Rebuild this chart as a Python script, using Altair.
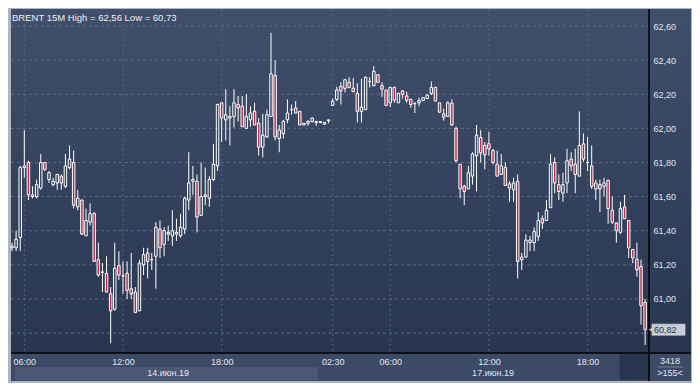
import altair as alt
import numpy as np
import pandas as pd

# ---------------- data ----------------
opens = [61.31, 61.30, 61.36, 61.77, 61.80, 61.60, 61.60, 61.65, 61.80, 61.70,
         61.67, 61.68, 61.72, 61.66, 61.77, 61.80, 61.54, 61.58, 61.37, 61.45,
         61.50, 61.23, 61.155, 61.15, 61.03, 60.94, 61.195, 61.135, 61.15, 61.06,
         61.04, 60.93, 61.20, 61.27, 61.23, 61.25, 61.41, 61.32, 61.39, 61.37,
         61.39, 61.37, 61.41, 61.58, 61.69, 61.69, 61.49, 61.61, 61.59, 61.70,
         61.78, 62.15, 62.05, 62.07, 62.07, 62.14, 62.13, 62.00, 62.05, 62.10,
         62.03, 61.89, 61.95, 62.07, 62.31, 61.94, 61.97, 62.05, 62.11, 62.12,
         62.10, 62.02, 62.03, 62.04, 62.04, 62.035, 62.025, 62.045, 62.135, 62.17,
         62.245, 62.235, 62.27, 62.235, 62.205, 62.10, 62.11, 62.275, 62.25, 62.315,
         62.25, 62.225, 62.15, 62.24, 62.15, 62.22, 62.19, 62.17, 62.145, 62.15,
         62.163, 62.175, 62.205, 62.24, 62.15, 62.085, 62.07, 62.148, 62.00, 61.79,
         61.66, 61.645, 61.72, 61.84, 61.946, 61.90, 61.91, 61.87, 61.79, 61.73,
         61.77, 61.675, 61.64, 61.69, 61.23, 61.245, 61.33, 61.33, 61.367, 61.47,
         61.46, 61.535, 61.80, 61.67, 61.62, 61.68, 61.82, 61.79, 61.72, 61.91,
         61.80, 61.78, 61.645, 61.67, 61.66, 61.695, 61.52, 61.445, 61.39, 61.54,
         61.46, 61.29, 61.233, 61.19, 60.98]
highs = [61.33, 61.40, 61.78, 61.99, 61.81, 61.66, 61.70, 61.85, 61.80, 61.75,
         61.71, 61.73, 61.73, 61.85, 61.90, 61.87, 61.64, 61.58, 61.53, 61.56,
         61.51, 61.33, 61.21, 61.25, 61.07, 61.33, 61.28, 61.22, 61.22, 61.27,
         61.07, 61.23, 61.30, 61.30, 61.27, 61.45, 61.46, 61.42, 61.43, 61.52,
         61.47, 61.50, 61.60, 61.86, 61.78, 61.73, 61.80, 61.77, 61.72, 61.91,
         62.145, 62.15, 62.23, 62.13, 62.23, 62.19, 62.19, 62.20, 62.13, 62.15,
         62.06, 62.085, 62.11, 62.56, 62.40, 62.02, 62.05, 62.17, 62.14, 62.16,
         62.10, 62.03, 62.05, 62.065, 62.045, 62.04, 62.037, 62.05, 62.175, 62.245,
         62.27, 62.29, 62.30, 62.295, 62.265, 62.29, 62.305, 62.30, 62.365, 62.315,
         62.27, 62.225, 62.245, 62.245, 62.21, 62.225, 62.215, 62.17, 62.155, 62.18,
         62.18, 62.20, 62.275, 62.245, 62.15, 62.115, 62.16, 62.17, 62.01, 61.79,
         61.67, 61.78, 61.86, 62.02, 61.99, 61.92, 61.98, 61.88, 61.87, 61.85,
         61.80, 61.69, 61.71, 61.73, 61.27, 61.38, 61.37, 61.42, 61.51, 61.49,
         61.58, 61.85, 61.83, 61.73, 61.74, 61.88, 61.86, 61.88, 62.10, 61.97,
         61.95, 61.90, 61.70, 61.70, 61.71, 61.70, 61.60, 61.45, 61.57, 61.61,
         61.46, 61.29, 61.33, 61.23, 61.00]
lows = [61.28, 61.28, 61.28, 61.71, 61.58, 61.59, 61.59, 61.64, 61.75, 61.68,
        61.66, 61.64, 61.64, 61.65, 61.76, 61.53, 61.52, 61.375, 61.37, 61.43,
        61.22, 61.13, 61.04, 61.04, 60.74, 60.93, 61.11, 61.03, 61.00, 61.00,
        60.92, 60.93, 61.14, 61.12, 61.17, 61.06, 61.24, 61.25, 61.34, 61.31,
        61.34, 61.36, 61.38, 61.52, 61.61, 61.39, 61.49, 61.55, 61.54, 61.69,
        61.75, 61.92, 61.93, 61.90, 62.005, 62.04, 62.01, 62.00, 62.01, 62.02,
        61.84, 61.83, 61.946, 62.07, 61.93, 61.86, 61.94, 62.03, 62.08, 62.09,
        62.02, 62.02, 62.015, 62.035, 62.015, 62.03, 62.02, 62.03, 62.133, 62.16,
        62.14, 62.21, 62.235, 62.215, 62.035, 62.035, 62.11, 62.24, 62.25, 62.27,
        62.185, 62.13, 62.125, 62.15, 62.15, 62.175, 62.15, 62.12, 62.09, 62.13,
        62.163, 62.175, 62.195, 62.16, 62.09, 62.045, 62.07, 62.015, 61.80, 61.59,
        61.55, 61.645, 61.67, 61.63, 61.80, 61.76, 61.84, 61.79, 61.72, 61.73,
        61.665, 61.57, 61.57, 61.12, 61.17, 61.245, 61.28, 61.28, 61.34, 61.41,
        61.46, 61.535, 61.62, 61.58, 61.57, 61.62, 61.75, 61.62, 61.72, 61.805,
        61.75, 61.645, 61.58, 61.51, 61.60, 61.44, 61.44, 61.33, 61.38, 61.47,
        61.24, 61.21, 61.13, 60.85, 60.73]
closes = [61.30, 61.35, 61.77, 61.78, 61.61, 61.61, 61.67, 61.80, 61.76, 61.74,
          61.69, 61.73, 61.68, 61.78, 61.82, 61.55, 61.59, 61.38, 61.46, 61.50,
          61.22, 61.14, 61.16, 61.04, 60.93, 61.18, 61.14, 61.135, 61.05, 61.03,
          60.92, 61.21, 61.26, 61.22, 61.23, 61.42, 61.30, 61.40, 61.38, 61.40,
          61.38, 61.42, 61.59, 61.68, 61.70, 61.48, 61.60, 61.60, 61.70, 61.79,
          62.14, 62.06, 62.08, 62.06, 62.15, 62.12, 62.01, 62.07, 62.09, 62.02,
          61.89, 61.96, 62.08, 62.32, 61.95, 61.99, 62.04, 62.09, 62.11, 62.09,
          62.02, 62.03, 62.04, 62.06, 62.035, 62.04, 62.035, 62.05, 62.16, 62.225,
          62.22, 62.285, 62.24, 62.215, 62.10, 62.125, 62.30, 62.275, 62.335, 62.27,
          62.23, 62.135, 62.24, 62.165, 62.205, 62.20, 62.165, 62.14, 62.145, 62.163,
          62.18, 62.195, 62.24, 62.16, 62.095, 62.065, 62.15, 62.02, 61.81, 61.645,
          61.63, 61.74, 61.85, 61.96, 61.857, 61.845, 61.88, 61.80, 61.72, 61.78,
          61.665, 61.65, 61.68, 61.22, 61.245, 61.345, 61.345, 61.395, 61.46, 61.445,
          61.52, 61.79, 61.68, 61.63, 61.67, 61.81, 61.78, 61.73, 61.90, 61.82,
          61.80, 61.66, 61.68, 61.645, 61.68, 61.53, 61.45, 61.40, 61.53, 61.47,
          61.30, 61.24, 61.17, 60.96, 60.82]

time_tick_idx = [3, 27, 51, 78, 92, 116, 140]
time_tick_lab = ["06:00", "12:00", "18:00", "02:30", "06:00", "12:00", "18:00"]
grid_prices = [60.80, 61.00, 61.20, 61.40, 61.60, 61.80, 62.00, 62.20, 62.40, 62.60]
label_prices = [61.00, 61.20, 61.40, 61.60, 61.80, 62.00, 62.20, 62.40, 62.60]
date_idx = [38, 117]
date_lab = ["14.июн.19", "17.июн.19"]
title_text = "BRENT 15M High = 62,56 Low = 60,73"
corner_texts = ["3418", ">155<"]

# ---------------- layout / style ----------------
W, H = 638, 344       # plot area
RP, BP = 43, 28       # right and bottom panels
FONT = "Liberation Sans, Arial, sans-serif"
TXT = "#e2e6ee"
BG_GRAD = alt.Gradient(
    gradient="linear",
    stops=[alt.GradientStop(color="#404f6b", offset=0),
           alt.GradientStop(color="#283650", offset=1)],
    x1=0, x2=0, y1=0, y2=1)

n = len(opens)
df = pd.DataFrame({"i": np.arange(n), "o": opens, "h": highs, "l": lows, "c": closes})
df["top"] = df[["o", "c"]].max(axis=1)
df["bot"] = df[["o", "c"]].min(axis=1)
df["dir"] = np.where(df["c"] < df["o"], "down", "up")
df["x1"] = df["i"] - 0.3
df["x2"] = df["i"] + 0.3

xs = alt.Scale(domain=[-0.24, 154.94], nice=False, zero=False)
ys = alt.Scale(domain=[60.683, 62.70], nice=False, zero=False)

expr = ""
for v, lab in zip(time_tick_idx, time_tick_lab):
    expr += f"datum.value == {v} ? '{lab}' : "
expr += "''"

xaxis = alt.Axis(values=time_tick_idx, labelExpr=expr, grid=False, ticks=False, tickSize=0,
                 domain=False, labelPadding=4, labelFontSize=9, labelFont=FONT,
                 labelColor=TXT, title=None, zindex=1, labelFlush=False, labelOverlap=False)
yaxis = alt.Axis(orient="right", values=label_prices, format=".2f",
                 labelExpr="replace(datum.label, '.', ',')", grid=False, ticks=False,
                 tickSize=0, domain=False, labelPadding=4, labelAlign="left",
                 labelBaseline="middle", labelFontSize=9, labelFont=FONT, labelColor=TXT,
                 title=None, zindex=1, labelFlush=False, labelOverlap=False)

one = pd.DataFrame({"k": [0]})

frame = alt.Chart(one).mark_rect(fill="#aeb6c5").encode(
    x=alt.value(-3), x2=alt.value(W + RP), y=alt.value(-1), y2=alt.value(H + BP + 2))
plot_bg = alt.Chart(one).mark_rect(fill=BG_GRAD).encode(
    x=alt.value(0), x2=alt.value(W), y=alt.value(0), y2=alt.value(H))
right_bg = alt.Chart(one).mark_rect(fill=BG_GRAD).encode(
    x=alt.value(W), x2=alt.value(W + RP - 1), y=alt.value(0), y2=alt.value(H))
bottom_bg = alt.Chart(one).mark_rect(fill="#3c4a65").encode(
    x=alt.value(0), x2=alt.value(W + RP - 1), y=alt.value(H), y2=alt.value(H + BP))

band_df = pd.DataFrame({"a": [0.7], "b": [74.4]})
date_band = alt.Chart(band_df).mark_rect(fill="#4a5874").encode(
    x=alt.X("a:Q", scale=xs, axis=xaxis), x2="b",
    y=alt.value(H + 14), y2=alt.value(H + BP - 1))
dark_df = pd.DataFrame({"a": [147.8], "b": [154.94]})
dark_box = alt.Chart(dark_df).mark_rect(fill="#28354e").encode(
    x=alt.X("a:Q", scale=xs, axis=xaxis), x2="b",
    y=alt.value(H + 1), y2=alt.value(H + BP - 1))

hgrid = alt.Chart(pd.DataFrame({"p": grid_prices})).mark_rule(
    color="#5b6a86", strokeWidth=1, strokeDash=[3, 3]).encode(
    y=alt.Y("p:Q", scale=ys, axis=yaxis), x=alt.value(0), x2=alt.value(W))
vgrid = alt.Chart(pd.DataFrame({"t": time_tick_idx})).mark_rule(
    color="#55647f", strokeWidth=1, strokeDash=[2, 3]).encode(
    x=alt.X("t:Q", scale=xs, axis=xaxis), y=alt.value(0), y2=alt.value(H + 1))

vline = alt.Chart(one).mark_rule(color="#000000", strokeWidth=1.5).encode(
    x=alt.value(W), y=alt.value(0), y2=alt.value(H + BP))
hline = alt.Chart(one).mark_rule(color="#000000", strokeWidth=1.5).encode(
    y=alt.value(H), x=alt.value(0), x2=alt.value(W + RP - 1))

base = alt.Chart(df)
upper_wick = base.mark_rule(color="white", strokeWidth=1).encode(
    x=alt.X("i:Q", scale=xs, axis=xaxis),
    y=alt.Y("h:Q", scale=ys, axis=yaxis), y2="top")
lower_wick = base.mark_rule(color="white", strokeWidth=1).encode(
    x=alt.X("i:Q", scale=xs, axis=xaxis),
    y=alt.Y("bot:Q", scale=ys, axis=yaxis), y2="l")
bodies = base.mark_rect(stroke="white", strokeWidth=1).encode(
    x=alt.X("x1:Q", scale=xs, axis=xaxis), x2="x2",
    y=alt.Y("top:Q", scale=ys, axis=yaxis), y2="bot",
    fill=alt.Fill("dir:N", scale=alt.Scale(domain=["up", "down"],
                                           range=["rgba(0,0,0,0)", "#b2304d"]),
                  legend=None))

last = closes[-1]
last_df = pd.DataFrame({"p": [last], "lab": [f"{last:.2f}".replace(".", ",")]})
price_box = alt.Chart(last_df).mark_rect(fill="#c6cbd4", stroke="#e8eaee", strokeWidth=0.6,
                                         yOffset=-5.5, y2Offset=5.5).encode(
    x=alt.value(W + 3), x2=alt.value(W + 36),
    y=alt.Y("p:Q", scale=ys, axis=yaxis), y2="p")
price_arrow = alt.Chart(last_df).mark_point(shape="triangle-left", filled=True,
                                            color="#c6cbd4", opacity=1, size=30).encode(
    x=alt.value(W + 2), y=alt.Y("p:Q", scale=ys, axis=yaxis))
price_text = alt.Chart(last_df).mark_text(align="left", baseline="middle", fontSize=9,
                                          font=FONT, color="#2b3550").encode(
    x=alt.value(W + 5), y=alt.Y("p:Q", scale=ys, axis=yaxis), text="lab:N")

title = alt.Chart(pd.DataFrame({"t": [title_text]})).mark_text(
    align="left", baseline="middle", fontSize=9.5, font=FONT, color="#eef1f5").encode(
    x=alt.value(1), y=alt.value(9), text="t:N")

dates = alt.Chart(pd.DataFrame({"i": date_idx, "t": date_lab})).mark_text(
    align="center", baseline="middle", fontSize=9, font=FONT, color=TXT).encode(
    x=alt.X("i:Q", scale=xs, axis=xaxis), y=alt.value(H + 20), text="t:N")

corner = alt.Chart(pd.DataFrame({"t": corner_texts, "y": [H + 8, H + 20]})).mark_text(
    align="center", baseline="middle", fontSize=9, font=FONT, color=TXT).encode(
    x=alt.value(W + 21), y=alt.Y("y:Q", scale=None), text="t:N")
corner_sep = alt.Chart(one).mark_rule(color="#8591a7", strokeWidth=0.8).encode(
    x=alt.value(W + 9), x2=alt.value(W + 34), y=alt.value(H + 14))

chart = alt.layer(
    frame, plot_bg, right_bg, bottom_bg, date_band, dark_box,
    hgrid, vgrid, vline, hline,
    upper_wick, lower_wick, bodies,
    price_box, price_arrow, price_text,
    title, dates, corner, corner_sep,
).properties(width=W, height=H, padding=0).configure_view(stroke=None)

chart.save("out.html", embed_options={"renderer": "svg", "actions": False})
